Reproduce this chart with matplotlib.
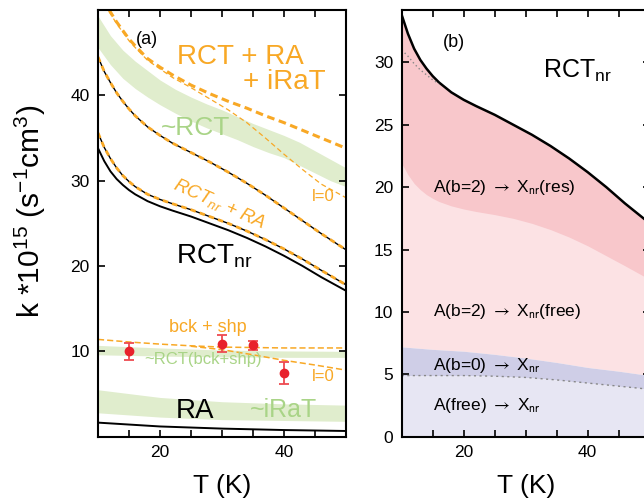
import matplotlib.pyplot as plt
import numpy as np

# temperatures (K) for the smooth curves
temp = [10, 11, 12, 13, 14, 15, 16, 18, 20, 22, 25, 28, 31, 34, 37, 40, 43, 46, 50]

rct_nr = [33.8, 32.3, 31.1, 30.2, 29.5, 28.9, 28.4, 27.6, 27.0, 26.5, 25.8, 25.0,
          24.2, 23.3, 22.3, 21.2, 20.0, 18.7, 17.1]
rct_nr_ra = [35.6, 33.9, 32.6, 31.5, 30.6, 29.9, 29.3, 28.4, 27.8, 27.3, 26.6, 25.8,
             25.0, 24.1, 23.1, 22.0, 20.8, 19.5, 17.8]
rct_upper = [44.5, 42.8, 41.5, 40.3, 39.3, 38.4, 37.6, 36.3, 35.3, 34.4, 33.3, 32.2,
             31.0, 29.7, 28.3, 26.8, 25.3, 23.8, 21.9]

temp_irat = [11.8, 13, 14, 15, 16, 18, 20, 22, 25, 28, 31, 34, 37, 40, 43, 46, 50]
rct_ra_irat = [50.0, 48.6, 47.6, 46.6, 45.8, 44.3, 43.3, 42.4, 41.2, 40.2, 39.3, 38.5,
               37.6, 36.8, 35.9, 35.0, 33.8]
rct_ra_irat_l0 = [49.8, 48.4, 47.4, 46.4, 45.6, 44.1, 43.1, 42.1, 40.9, 39.6, 38.3,
                  36.8, 35.0, 33.1, 31.3, 29.6, 28.0]

temp_band = [10, 12, 14, 16, 18, 20, 22.5, 25, 27.5, 30, 32.5, 35, 37.5, 40, 42.5, 45, 47.5, 50]
rct_band_hi = [49.3, 47.0, 45.3, 44.0, 42.9, 41.8, 40.7, 39.8, 39.0, 38.3, 37.5, 36.7,
               36.0, 35.3, 34.5, 33.5, 32.5, 31.5]
rct_band_lo = [45.6, 43.6, 42.0, 40.8, 39.8, 38.9, 37.9, 37.0, 36.2, 35.5, 34.8, 34.0,
               33.3, 32.7, 31.8, 30.9, 30.0, 29.3]

temp_low = [10, 15, 20, 25, 30, 35, 40, 45, 50]
bck_shp = [11.4, 11.1, 10.85, 10.65, 10.5, 10.45, 10.4, 10.4, 10.4]
temp_l0 = [25, 30, 35, 40, 45, 50]
bck_shp_l0 = [10.6, 10.2, 9.6, 8.95, 8.4, 7.8]

temp_sparse = [10, 20, 30, 40, 50]
bck_band_hi = [10.7, 10.4, 10.15, 10.05, 10.0]
bck_band_lo = [9.6, 9.45, 9.35, 9.3, 9.3]
irat_band_hi = [5.5, 4.6, 4.1, 3.85, 3.7]
irat_band_lo = [2.8, 2.3, 2.0, 1.9, 1.8]
ra = [1.65, 1.2, 0.95, 0.78, 0.67]

# measurements
t_meas = [15, 30, 35, 40]
k_meas = [10.0, 10.9, 10.7, 7.5]
k_err = [1.0, 1.0, 0.55, 1.3]

# panel (b) boundaries
res_free = [21.9, 21.0, 20.3, 19.8, 19.4, 19.1, 18.85, 18.5, 18.25, 18.05, 17.8, 17.5,
            17.1, 16.6, 16.0, 15.3, 14.5, 13.7, 12.6]
b0_top = [7.2, 7.0, 6.85, 6.6, 6.3, 5.95, 5.55, 5.25, 4.9]
free_top = [4.9, 4.9, 4.9, 4.85, 4.75, 4.55, 4.3, 4.05, 3.8]
temp_dot = [10, 11, 12, 13, 14, 15, 16]
rct_dot = [31.0, 30.5, 29.9, 29.4, 29.0, 28.6, 28.3]

channel_labels = [r"A(b=2) $\rightarrow$ X$_{\mathrm{nr}}$(res)",
                  r"A(b=2) $\rightarrow$ X$_{\mathrm{nr}}$(free)",
                  r"A(b=0) $\rightarrow$ X$_{\mathrm{nr}}$",
                  r"A(free) $\rightarrow$ X$_{\mathrm{nr}}$"]
channel_y = [20.0, 10.0, 5.67, 2.54]

ORANGE = "#f8a825"
GREEN_BAND = "#e0edcd"
GREEN_TXT = "#a9d487"
RED = "#e8212b"

plt.rcParams["font.family"] = ["Liberation Sans", "DejaVu Sans"]
plt.rcParams["mathtext.fontset"] = "custom"
plt.rcParams["mathtext.rm"] = "Liberation Sans"
plt.rcParams["mathtext.it"] = "Liberation Sans:italic"

fig = plt.figure(figsize=(6.44, 5.03), dpi=100)
ax = fig.add_axes([0.1522, 0.1318, 0.3851, 0.8483])
bx = fig.add_axes([0.6238, 0.1318, 0.3851, 0.8483])


def style_axes(a):
    for s in a.spines.values():
        s.set_linewidth(1.5)
        s.set_zorder(10)
    a.tick_params(direction="in", length=5, width=1.2, top=True, right=True,
                  labelsize=12.5, pad=6)
    a.set_xlim(10, 50)
    a.set_xticks([15, 20, 25, 30, 35, 40, 45])
    a.set_xticklabels(["", "20", "", "", "", "40", ""])
    a.set_xlabel("T (K)", fontsize=19, labelpad=10)


# ---- panel (a)
ax.fill_between(temp_band, rct_band_lo, rct_band_hi, color=GREEN_BAND, lw=0)
ax.fill_between(temp_sparse, bck_band_lo, bck_band_hi, color=GREEN_BAND, lw=0)
ax.fill_between(temp_sparse, irat_band_lo, irat_band_hi, color=GREEN_BAND, lw=0)

ax.plot(temp, rct_nr, color="black", lw=1.4)
ax.plot(temp, rct_nr_ra, color="black", lw=1.0)
ax.plot(temp, rct_nr_ra, color=ORANGE, lw=2.0, ls=(0, (2, 1.5)))
ax.plot(temp, rct_upper, color="black", lw=1.0)
ax.plot(temp, rct_upper, color=ORANGE, lw=2.0, ls=(0, (2, 1.5)))
ax.plot(temp_irat, rct_ra_irat_l0, color=ORANGE, lw=0.9, ls=(0, (4, 2.5)))
ax.plot(temp_irat, rct_ra_irat, color=ORANGE, lw=2.2, ls=(0, (2.5, 1.5)))
ax.plot(temp_sparse, ra, color="black", lw=1.4)
ax.plot(temp_low, bck_shp, color=ORANGE, lw=1.1, ls=(0, (4, 2)))
ax.plot(temp_l0, bck_shp_l0, color=ORANGE, lw=1.1, ls=(0, (4, 2)))

ax.errorbar(t_meas, k_meas, yerr=k_err, fmt="o", color=RED, ecolor="#ee4a50",
            ms=6, capsize=3.5, elinewidth=1.3, capthick=1.3, zorder=5)

ax.text(17.9, 46.5, "(a)", fontsize=13, ha="center", va="center")
ax.text(33.0, 44.5, "RCT + RA", fontsize=20, color=ORANGE, ha="center", va="center")
ax.text(40.0, 41.6, "+ iRaT", fontsize=20, color=ORANGE, ha="center", va="center")
ax.text(25.7, 36.2, "~RCT", fontsize=19, color=GREEN_TXT, ha="center", va="center")
ax.text(29.6, 27.3, r"RCT$_{\mathit{nr}}$ + RA", fontsize=13.5, color=ORANGE,
        style="italic", ha="center", va="center", rotation=-24)
ax.text(22.6, 20.3, r"RCT$_{\mathrm{nr}}$", fontsize=20, ha="left", va="baseline")
ax.text(46.4, 28.2, "l=0", fontsize=12, color=ORANGE, ha="center", va="center")
ax.text(27.7, 12.8, "bck + shp", fontsize=13, color=ORANGE, ha="center", va="center")
ax.text(27.0, 9.0, "~RCT(bck+shp)", fontsize=12, color=GREEN_TXT, ha="center", va="center")
ax.text(46.4, 7.0, "l=0", fontsize=12, color=ORANGE, ha="center", va="center")
ax.text(22.6, 2.2, "RA", fontsize=20, ha="left", va="baseline")
ax.text(34.5, 2.3, "~iRaT", fontsize=18, color=GREEN_TXT, ha="left", va="baseline")

style_axes(ax)
ax.set_ylim(0, 50)
ax.set_yticks([10, 20, 30, 40])
ax.set_ylabel(r"k *10$^{15}$ (s$^{-1}$cm$^{3}$)", fontsize=21.5)
ax.yaxis.set_label_coords(-0.2, 0.527)

# ---- panel (b)
zeros = np.zeros(len(temp_low))
bx.fill_between(temp, rct_nr, 40, color="white", lw=0, zorder=0.5)
bx.fill_between(temp_low, b0_top, 40, color="#fce2e4", lw=0, zorder=0)
bx.fill_between(temp, res_free, rct_nr, color="#f8c7cb", lw=0)
bx.fill_between(temp_low, free_top, b0_top, color="#cfcee7", lw=0)
bx.fill_between(temp_low, zeros, free_top, color="#e7e6f3", lw=0)
bx.plot(temp, rct_nr, color="black", lw=1.8)
bx.plot(temp_dot, rct_dot, color="#888888", lw=1.0, ls=(0, (1, 2)))
bx.plot(temp_low, free_top, color="#888888", lw=1.0, ls=(0, (1.5, 2.5)))

bx.text(18.4, 31.6, "(b)", fontsize=13, ha="center", va="center")
bx.text(32.8, 28.8, r"RCT$_{\mathrm{nr}}$", fontsize=18, ha="left", va="baseline")
for label, yy in zip(channel_labels, channel_y):
    bx.text(15.0, yy, label, fontsize=12.5, ha="left", va="center",
            math_fontfamily="stixsans")

style_axes(bx)
bx.set_ylim(0, 34.2)
bx.set_yticks([0, 5, 10, 15, 20, 25, 30])

fig.savefig("out.png", dpi=100)
